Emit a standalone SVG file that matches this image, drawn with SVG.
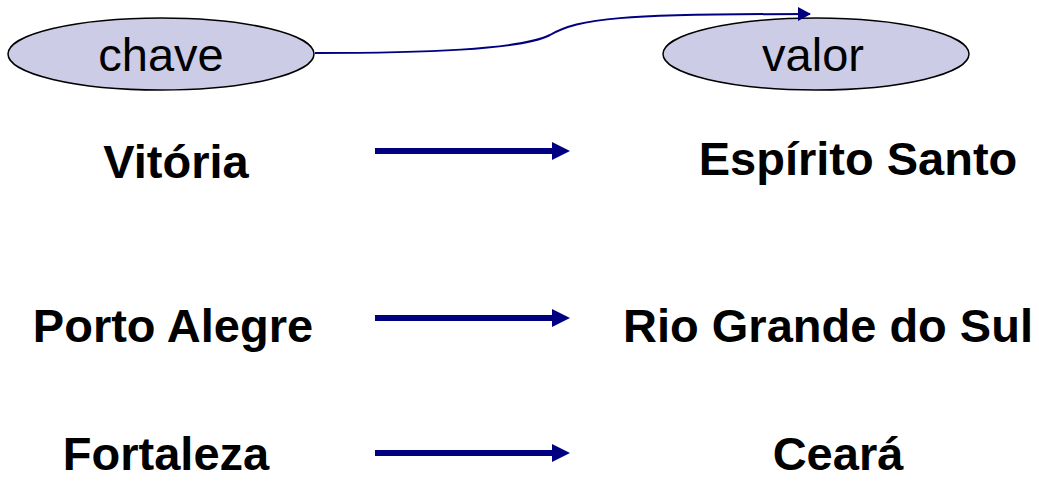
<svg xmlns="http://www.w3.org/2000/svg" width="1039" height="481" viewBox="0 0 1039 481">
<style>
.n{fill:#CCCCE6;stroke:#000;stroke-width:1.5}
.t{font-family:"Liberation Sans",Arial,sans-serif;font-size:47px;fill:#000;text-anchor:middle}
.b{font-family:"Liberation Sans",Arial,sans-serif;font-size:47px;font-weight:bold;fill:#000;text-anchor:middle}
.a{stroke:#000080;stroke-width:6;fill:none}
</style>
<defs>
<marker id="ah" markerWidth="14" markerHeight="14" refX="12" refY="7" orient="auto" markerUnits="userSpaceOnUse">
<path d="M0,0 L13,7 L0,14 Z" fill="#000080"/>
</marker>
</defs>
<rect width="1039" height="481" fill="#fff"/>
<g id="chave"><ellipse class="n" cx="161" cy="54" rx="153" ry="36"/><text class="t" x="161" y="71">chave</text></g>
<g id="valor"><ellipse class="n" cx="816" cy="54" rx="153" ry="36"/><text class="t" x="813" y="71">valor</text></g>
<g id="vitoria"><text class="b" x="176" y="178">Vitória</text></g>
<g id="es"><text class="b" x="858" y="175">Espírito Santo</text></g>
<g id="poa"><text class="b" x="173" y="342">Porto Alegre</text></g>
<g id="rs"><text class="b" x="828" y="342">Rio Grande do Sul</text></g>
<g id="fort"><text class="b" x="166" y="470">Fortaleza</text></g>
<g id="ce"><text class="b" x="838" y="470">Ceará</text></g>
<g id="connectors">
<path d="M315,53 C420,53 520,50 550,35 C580,18 620,14 810,14" stroke="#000080" stroke-width="2" fill="none" marker-end="url(#ah)"/>
<line class="a" x1="375" y1="151" x2="553" y2="151"/><path d="M552,142 L570,151 L552,160 Z" fill="#000080"/>
<line class="a" x1="375" y1="318" x2="553" y2="318"/><path d="M552,309 L570,318 L552,327 Z" fill="#000080"/>
<line class="a" x1="375" y1="453" x2="553" y2="453"/><path d="M552,444 L570,453 L552,462 Z" fill="#000080"/>
</g>
</svg>
